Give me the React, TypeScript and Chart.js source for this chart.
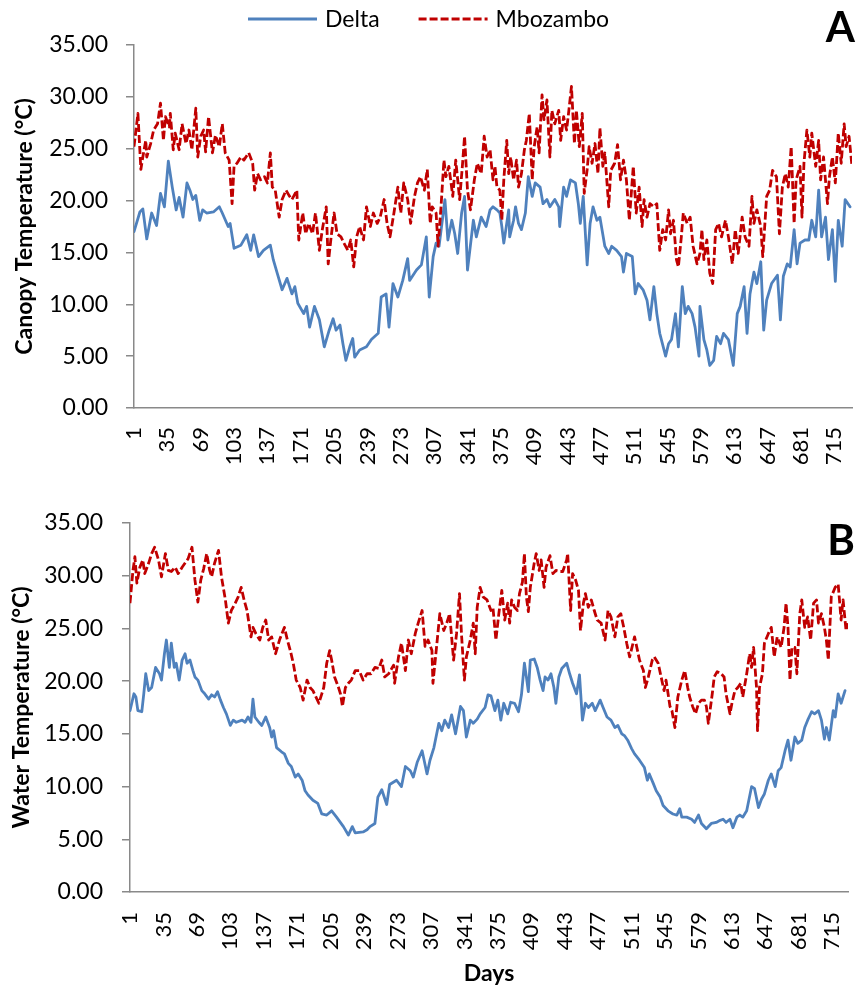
import React, { useEffect, useRef } from "react";
import { Chart, registerables } from "chart.js";

Chart.register(...registerables);

const FONT = "Lato, 'Liberation Sans', Arial, sans-serif";
const BLUE = "#4F81BD";
const RED = "#C00000";
const AXIS = "#898989";
const LINE_W = 2.8;
const RED_DASH = [8, 3];

const seriesNames = ["Delta", "Mbozambo"];
const dayTicks = [1, 35, 69, 103, 137, 171, 205, 239, 273, 307, 341, 375, 409, 443, 477, 511, 545, 579, 613, 647, 681, 715];

// ---- Panel A: canopy temperature ----
const deltaCanopyDays = [
  1, 7, 10, 14, 19, 24, 28, 32, 36, 40,
  44, 47, 51, 55, 58, 61, 64, 68, 71, 75,
  82, 88, 91, 97, 99, 103, 110, 116, 120, 123,
  128, 133, 140, 143, 147, 152, 157, 162, 165, 168,
  174, 177, 180, 185, 190, 195, 200, 204, 207, 211,
  214, 217, 221, 224, 226, 231, 238, 243, 250, 253,
  258, 261, 265, 270, 275, 280, 282, 289, 294, 299,
  302, 306, 309, 312, 318, 321, 325, 328, 331, 335,
  338, 341, 347, 350, 355, 360, 364, 367, 371, 374,
  376, 378, 379, 383, 384, 388, 390, 393, 396, 400,
  403, 407, 410, 415, 418, 422, 425, 430, 434, 435,
  439, 442, 446, 451, 454, 456, 459, 463, 466, 469,
  473, 476, 481, 485, 488, 493, 498, 500, 503, 509,
  512, 515, 520, 524, 527, 531, 534, 537, 543, 546,
  549, 553, 556, 560, 563, 566, 570, 573, 577, 578,
  582, 585, 588, 592, 595, 599, 602, 607, 612, 616,
  619, 623, 626, 629, 633, 636, 640, 643, 646, 651,
  657, 660, 663, 667, 670, 674, 677, 680, 685, 689,
  692, 696, 699, 702, 706, 709, 713, 716, 719, 723,
  726, 731,
];
const deltaCanopyTemps = [
  17.0, 18.9, 19.2, 16.3, 18.8, 17.6, 20.7, 19.4, 23.8, 21.3,
  19.1, 20.3, 18.4, 21.7, 21.0, 20.1, 20.5, 18.1, 19.1, 18.8,
  18.9, 19.4, 18.8, 17.5, 17.8, 15.4, 15.7, 16.7, 15.2, 16.7,
  14.6, 15.2, 15.7, 14.3, 13.0, 11.4, 12.5, 11.0, 11.7, 10.1,
  9.1, 9.8, 7.8, 9.8, 8.5, 5.9, 7.5, 8.6, 7.5, 8.0,
  6.2, 4.6, 5.9, 6.7, 4.9, 5.6, 5.9, 6.6, 7.2, 10.7,
  11.0, 7.8, 12.0, 10.7, 12.3, 14.4, 12.3, 13.3, 13.8, 16.5,
  10.7, 14.6, 15.9, 15.6, 20.1, 16.2, 18.1, 16.8, 14.9, 18.8,
  20.4, 13.3, 18.1, 16.5, 18.4, 17.5, 19.1, 19.4, 19.1, 18.8,
  17.5, 15.9, 16.5, 19.1, 16.5, 18.1, 19.4, 17.8, 17.2, 18.8,
  22.3, 20.4, 21.7, 21.3, 19.7, 20.1, 19.4, 20.1, 19.4, 17.5,
  21.3, 20.4, 22.0, 21.7, 19.7, 17.8, 20.4, 13.8, 17.8, 19.4,
  18.1, 18.4, 15.6, 14.9, 15.6, 15.2, 14.6, 13.1, 14.9, 14.6,
  11.0, 12.0, 11.4, 10.4, 8.5, 11.7, 9.1, 7.2, 5.0, 6.2,
  6.6, 9.1, 5.9, 11.7, 9.1, 9.8, 9.1, 7.8, 5.0, 9.8,
  6.6, 5.6, 4.1, 4.6, 6.9, 6.2, 7.2, 6.6, 4.1, 9.1,
  9.8, 11.7, 7.2, 11.0, 13.1, 12.0, 14.1, 7.5, 10.4, 12.0,
  12.8, 8.5, 12.7, 13.9, 13.6, 17.2, 13.9, 15.9, 16.2, 16.2,
  18.1, 16.5, 21.0, 16.5, 18.4, 14.3, 17.2, 12.2, 18.1, 15.6,
  20.1, 19.4,
];
const mbozamboCanopyDays = [
  1, 5, 8, 10, 13, 14, 18, 21, 25, 28,
  31, 33, 37, 38, 41, 43, 47, 50, 54, 57,
  60, 64, 66, 69, 72, 74, 77, 81, 84, 88,
  91, 94, 98, 101, 103, 106, 110, 113, 118, 122,
  124, 127, 130, 134, 137, 140, 142, 145, 149, 152,
  156, 159, 162, 167, 169, 173, 176, 179, 183, 186,
  190, 193, 197, 199, 202, 205, 208, 212, 215, 219,
  222, 225, 228, 231, 235, 238, 242, 245, 249, 252,
  256, 259, 262, 266, 270, 273, 276, 280, 283, 287,
  290, 293, 297, 300, 303, 305, 309, 311, 314, 317,
  319, 322, 326, 329, 333, 336, 338, 341, 344, 348,
  351, 355, 358, 361, 364, 367, 369, 371, 374, 376,
  378, 381, 383, 385, 388, 391, 393, 396, 399, 401,
  404, 407, 409, 412, 414, 417, 419, 422, 425, 427,
  430, 434, 436, 439, 442, 444, 447, 450, 452, 455,
  458, 460, 463, 465, 468, 471, 474, 476, 479, 481,
  485, 487, 491, 494, 497, 500, 503, 506, 510, 513,
  516, 519, 521, 524, 527, 531, 534, 537, 540, 543,
  546, 548, 551, 554, 556, 559, 561, 565, 568, 571,
  575, 578, 580, 582, 585, 588, 591, 594, 597, 600,
  604, 607, 611, 614, 617, 621, 624, 628, 631, 633,
  636, 640, 642, 646, 649, 652, 656, 659, 662, 665,
  668, 671, 674, 676, 680, 682, 684, 687, 690, 692,
  696, 699, 701, 704, 708, 710, 713, 716, 719, 722,
  725, 727, 730, 733,
];
const mbozamboCanopyTemps = [
  25.2, 28.4, 23.0, 24.2, 25.8, 24.2, 25.5, 26.8, 27.4, 29.4,
  25.8, 28.1, 27.1, 28.4, 24.9, 26.5, 24.9, 27.4, 25.5, 26.8,
  24.9, 28.9, 24.2, 26.2, 26.8, 24.7, 28.1, 24.6, 26.3, 25.2,
  27.4, 24.6, 23.9, 19.7, 23.3, 23.6, 24.2, 23.9, 24.6, 23.6,
  21.0, 22.6, 22.0, 22.3, 21.7, 24.6, 21.3, 21.0, 18.4, 20.1,
  21.0, 20.5, 20.1, 21.0, 16.2, 18.8, 16.8, 17.8, 16.8, 18.8,
  15.2, 17.2, 19.4, 13.9, 16.5, 18.8, 16.8, 16.5, 15.9, 15.2,
  16.2, 13.6, 16.5, 17.5, 16.2, 19.4, 17.5, 18.8, 17.8, 18.4,
  20.1, 17.8, 16.5, 18.8, 21.3, 18.8, 21.7, 20.1, 17.8, 20.4,
  21.7, 22.3, 21.0, 23.0, 17.8, 19.4, 18.8, 15.6, 19.4, 23.9,
  22.3, 23.3, 20.4, 23.9, 20.1, 23.6, 26.2, 21.0, 19.1, 22.0,
  23.6, 22.6, 26.2, 24.2, 24.9, 22.0, 23.3, 21.3, 21.0, 18.1,
  22.0, 25.8, 22.6, 24.2, 22.0, 23.9, 21.3, 22.6, 24.9, 25.8,
  28.4, 22.0, 25.2, 27.1, 24.6, 30.2, 27.8, 29.7, 24.2, 28.7,
  27.4, 28.7, 25.8, 28.1, 26.8, 28.4, 31.0, 25.5, 28.7, 25.2,
  28.4, 20.7, 23.0, 25.2, 23.6, 25.5, 22.6, 27.0, 23.3, 24.6,
  19.4, 22.9, 23.6, 25.4, 22.0, 23.9, 22.0, 18.1, 23.3, 18.8,
  21.3, 17.5, 20.1, 18.4, 19.7, 19.4, 19.7, 15.2, 17.2, 16.2,
  19.1, 16.8, 18.1, 14.3, 13.6, 16.5, 18.8, 17.8, 18.4, 15.6,
  13.9, 14.9, 17.2, 14.3, 16.2, 13.0, 12.0, 17.2, 17.8, 16.5,
  18.1, 16.5, 13.9, 17.2, 14.9, 18.4, 16.5, 15.6, 20.4, 17.8,
  19.1, 17.5, 14.6, 20.4, 21.0, 22.9, 22.3, 16.8, 21.3, 22.6,
  21.3, 25.2, 17.8, 22.0, 23.3, 18.4, 23.6, 26.8, 24.2, 26.5,
  23.3, 25.8, 22.0, 24.2, 19.7, 22.3, 24.2, 21.7, 26.5, 23.6,
  27.4, 25.2, 26.2, 23.3,
];

// ---- Panel B: water temperature ----
const deltaWaterDays = [
  1, 5, 7, 9, 13, 15, 17, 20, 23, 27,
  31, 33, 36, 38, 41, 43, 46, 48, 51, 54,
  57, 59, 62, 65, 67, 70, 74, 77, 81, 84,
  87, 90, 93, 96, 99, 103, 106, 109, 115, 118,
  121, 124, 126, 128, 132, 135, 139, 143, 145, 147,
  150, 155, 158, 162, 165, 169, 172, 176, 179, 182,
  187, 192, 196, 201, 206, 211, 218, 223, 227, 230,
  238, 242, 245, 250, 253, 257, 262, 265, 272, 277,
  281, 286, 289, 293, 298, 303, 306, 310, 315, 318,
  321, 325, 328, 332, 337, 340, 343, 347, 350, 354,
  357, 362, 365, 368, 372, 375, 378, 381, 385, 388,
  392, 396, 399, 402, 404, 406, 408, 412, 415, 418,
  421, 423, 426, 429, 432, 434, 437, 440, 445, 448,
  451, 455, 458, 461, 464, 467, 471, 474, 479, 482,
  486, 490, 494, 497, 501, 504, 507, 511, 514, 519,
  524, 527, 529, 533, 536, 540, 543, 548, 553, 557,
  560, 562, 567, 572, 575, 579, 582, 587, 592, 597,
  601, 604, 607, 611, 614, 618, 621, 624, 628, 633,
  636, 640, 643, 646, 650, 653, 657, 660, 663, 667,
  670, 673, 677, 680, 684, 687, 690, 694, 697, 701,
  704, 707, 709, 712, 716, 718, 721, 724, 728,
];
const deltaWaterTemps = [
  17.2, 18.8, 18.5, 17.2, 17.1, 18.8, 20.7, 19.1, 19.4, 21.3,
  20.7, 20.1, 22.6, 23.9, 21.3, 23.6, 21.3, 21.7, 20.1, 22.0,
  22.6, 21.7, 22.0, 21.0, 20.4, 20.1, 19.1, 18.8, 18.3, 18.7,
  18.5, 19.0, 18.2, 17.5, 16.9, 15.8, 16.3, 16.1, 16.3, 16.1,
  16.6, 16.1, 18.3, 16.6, 16.1, 15.8, 16.6, 15.6, 14.7, 15.3,
  13.7, 13.3, 13.1, 12.2, 11.9, 10.9, 11.2, 10.6, 9.6, 9.2,
  8.7, 8.4, 7.4, 7.3, 7.7, 7.1, 6.2, 5.4, 6.2, 5.6,
  5.7, 5.9, 6.2, 6.5, 9.0, 9.7, 8.3, 10.2, 10.6, 10.0,
  11.9, 11.5, 10.9, 12.3, 13.4, 11.2, 12.5, 13.7, 16.0, 15.3,
  16.3, 15.6, 16.8, 15.0, 17.6, 17.2, 14.7, 16.3, 16.0, 16.4,
  16.9, 17.5, 18.7, 18.6, 17.2, 18.2, 16.3, 17.9, 16.9, 18.0,
  17.9, 17.1, 18.7, 21.7, 20.4, 19.0, 22.0, 22.1, 21.3, 20.1,
  19.1, 20.4, 20.1, 20.7, 19.4, 17.9, 20.4, 21.2, 21.7, 20.7,
  19.8, 18.8, 20.6, 16.3, 17.9, 17.5, 17.9, 17.2, 18.2, 17.5,
  16.6, 16.3, 15.6, 15.8, 15.0, 14.8, 14.4, 13.6, 13.1, 12.5,
  11.8, 10.6, 11.2, 10.3, 9.6, 9.0, 8.2, 7.7, 7.4, 7.3,
  7.9, 7.1, 7.1, 6.9, 6.6, 7.3, 6.5, 6.0, 6.5, 6.6,
  6.8, 6.9, 6.6, 6.9, 6.1, 7.1, 7.3, 7.1, 7.7, 10.0,
  9.8, 8.0, 8.8, 9.3, 10.6, 11.2, 10.0, 11.5, 11.8, 13.4,
  14.4, 12.5, 14.7, 14.1, 14.4, 15.6, 16.3, 17.1, 16.9, 17.2,
  16.3, 14.5, 15.6, 14.4, 17.2, 16.6, 18.8, 17.9, 19.1,
];
const mbozamboWaterDays = [
  1, 4, 6, 8, 11, 14, 16, 20, 23, 26,
  30, 33, 37, 40, 43, 47, 50, 54, 57, 60,
  64, 67, 70, 73, 76, 79, 82, 84, 87, 91,
  94, 98, 101, 104, 108, 111, 114, 117, 120, 124,
  126, 129, 133, 136, 139, 142, 145, 149, 153, 158,
  161, 164, 167, 170, 174, 177, 181, 184, 187, 190,
  193, 196, 198, 201, 204, 206, 209, 213, 215, 217,
  220, 223, 226, 230, 234, 238, 242, 246, 250, 254,
  257, 260, 264, 269, 270, 274, 277, 281, 284, 287,
  291, 294, 298, 301, 304, 308, 309, 312, 316, 320,
  323, 326, 330, 333, 336, 338, 341, 343, 347, 350,
  352, 354, 357, 360, 364, 368, 370, 373, 376, 379,
  382, 385, 387, 389, 392, 395, 397, 400, 402, 404,
  406, 408, 412, 414, 417, 419, 422, 424, 428, 431,
  434, 438, 441, 445, 446, 449, 451, 454, 457, 459,
  462, 464, 467, 470, 473, 476, 480, 484, 487, 490,
  494, 497, 500, 503, 506, 509, 514, 517, 519, 523,
  525, 528, 532, 534, 538, 541, 544, 546, 550, 552,
  555, 558, 562, 565, 568, 570, 573, 576, 579, 582,
  585, 587, 589, 593, 595, 598, 602, 605, 607, 611,
  613, 616, 619, 622, 624, 628, 631, 633, 635, 638,
  639, 641, 644, 646, 650, 653, 656, 659, 663, 666,
  668, 670, 672, 674, 677, 679, 682, 684, 687, 690,
  693, 696, 699, 701, 704, 707, 709, 711, 714, 718,
  721, 724, 726, 729, 731,
];
const mbozamboWaterTemps = [
  27.4, 30.5, 31.8, 29.3, 30.8, 31.5, 30.2, 31.2, 32.1, 32.7,
  31.5, 29.9, 32.1, 30.5, 30.4, 30.8, 30.2, 30.8, 31.2, 31.6,
  32.7, 29.6, 27.5, 29.6, 30.7, 32.1, 30.5, 29.9, 31.2, 32.4,
  29.9, 27.7, 25.5, 26.7, 27.4, 28.0, 28.9, 27.7, 26.7, 24.2,
  25.1, 24.5, 23.9, 25.1, 25.8, 23.9, 24.2, 22.6, 23.9, 25.1,
  23.9, 22.9, 21.7, 20.1, 19.4, 18.2, 20.1, 19.4, 19.1, 18.5,
  17.9, 18.8, 19.4, 21.7, 22.9, 22.0, 20.4, 19.4, 18.8, 17.6,
  19.4, 19.8, 20.1, 21.0, 21.0, 20.1, 20.7, 20.7, 21.3, 21.2,
  22.0, 20.4, 20.7, 21.5, 19.8, 22.3, 23.6, 21.0, 23.9, 22.6,
  24.5, 25.5, 26.7, 23.3, 23.9, 22.9, 19.8, 22.6, 26.4, 24.8,
  25.5, 26.4, 22.0, 24.5, 28.3, 24.5, 20.1, 22.3, 23.9, 25.5,
  22.6, 27.0, 28.9, 28.0, 27.7, 26.7, 27.0, 23.9, 26.4, 28.6,
  25.8, 27.4, 25.5, 27.7, 27.0, 26.7, 28.3, 29.4, 32.1, 28.0,
  26.6, 28.9, 31.2, 32.1, 30.5, 31.5, 28.9, 30.8, 31.9, 30.2,
  30.5, 30.4, 30.4, 31.5, 32.1, 26.7, 30.2, 29.6, 28.6, 24.8,
  27.4, 28.3, 27.0, 27.7, 26.7, 25.8, 25.5, 23.9, 26.7, 26.1,
  24.2, 26.1, 26.4, 25.1, 23.6, 22.3, 24.2, 22.9, 22.0, 21.0,
  19.4, 20.4, 22.0, 22.3, 21.7, 20.4, 19.1, 20.1, 17.6, 17.2,
  15.6, 18.5, 20.1, 21.0, 19.4, 18.5, 17.6, 16.9, 17.9, 18.2,
  18.2, 17.6, 16.0, 18.8, 20.4, 20.9, 20.7, 20.4, 18.8, 16.9,
  17.9, 19.1, 19.4, 19.8, 18.5, 20.7, 22.6, 21.3, 23.2, 19.4,
  15.3, 19.4, 20.7, 23.6, 24.5, 25.1, 22.3, 24.2, 23.2, 25.1,
  27.4, 25.1, 20.1, 23.2, 23.2, 20.7, 26.4, 27.7, 25.1, 26.1,
  23.9, 27.4, 27.7, 25.5, 26.4, 25.1, 23.9, 22.0, 28.0, 28.9,
  29.2, 25.8, 27.7, 24.8, 25.5,
];

const toPoints = (days: number[], temps: number[]) => days.map((d, i) => ({ x: d, y: temps[i] }));

const decorPlugin = {
  id: "decor",
  afterDraw(chart: any, _args: any, opts: any) {
    const ctx: CanvasRenderingContext2D = chart.ctx;
    ctx.save();
    ctx.fillStyle = "#000";
    ctx.textBaseline = "alphabetic";
    ctx.font = `bold 42px ${FONT}`;
    ctx.textAlign = "right";
    ctx.fillText(opts.letter, 855, opts.letterBaseline);
    if (opts.legend) {
      ctx.font = `23px ${FONT}`;
      ctx.textAlign = "left";
      const items = [
        { text: seriesNames[0], color: BLUE, dash: [] as number[] },
        { text: seriesNames[1], color: RED, dash: RED_DASH },
      ];
      let x = 248;
      for (const it of items) {
        ctx.beginPath();
        ctx.setLineDash(it.dash);
        ctx.strokeStyle = it.color;
        ctx.lineWidth = LINE_W;
        ctx.moveTo(x, 19);
        ctx.lineTo(x + 69, 19);
        ctx.stroke();
        ctx.setLineDash([]);
        ctx.fillText(it.text, x + 77, 27);
        x += 77 + ctx.measureText(it.text).width + 39;
      }
    }
    ctx.restore();
  },
};

type PanelProps = {
  top: number;
  height: number;
  plotTop: number;
  plotBottom: number;
  plotLeft: number;
  plotRight: number;
  xMax: number;
  yTitle: string;
  yTitleOffset: number;
  yLabelPad: number;
  xLabelPad: number;
  xTitle?: string;
  letter: string;
  letterBaseline: number;
  legend: boolean;
  delta: { x: number; y: number }[];
  mboz: { x: number; y: number }[];
};

function Panel(p: PanelProps) {
  const ref = useRef<HTMLCanvasElement>(null);
  useEffect(() => {
    const chart = new Chart(ref.current as HTMLCanvasElement, {
      type: "line",
      data: {
        datasets: [
          {
            label: seriesNames[0],
            data: p.delta,
            borderColor: BLUE,
            borderWidth: LINE_W,
            pointRadius: 0,
            borderJoinStyle: "round",
            borderCapStyle: "round",
            tension: 0,
            order: 1,
          },
          {
            label: seriesNames[1],
            data: p.mboz,
            borderColor: RED,
            borderWidth: LINE_W,
            borderDash: RED_DASH,
            pointRadius: 0,
            borderJoinStyle: "round",
            tension: 0,
            order: 0,
          },
        ],
      },
      options: {
        responsive: false,
        animation: false,
        layout: { padding: { top: p.plotTop, right: 858 - p.plotRight, bottom: 0, left: 0 } },
        plugins: {
          legend: { display: false },
          tooltip: { enabled: false },
          decor: { letter: p.letter, letterBaseline: p.letterBaseline, legend: p.legend },
        } as any,
        scales: {
          x: {
            type: "linear",
            min: 1,
            max: p.xMax,
            afterBuildTicks: (s: any) => {
              s.ticks = dayTicks.map((v) => ({ value: v }));
            },
            afterFit: (s: any) => {
              s.height = p.height - p.plotBottom;
              s.paddingLeft = 0;
              s.paddingRight = 0;
            },
            ticks: {
              autoSkip: false,
              minRotation: 90,
              maxRotation: 90,
              padding: p.xLabelPad,
              color: "#000",
              font: { family: FONT, size: 22 },
              callback: (v: any) => String(v),
            },
            grid: { display: true, drawOnChartArea: false, drawTicks: false },
            border: { display: true, color: AXIS, width: 1.5 },
            title: p.xTitle
              ? {
                  display: true,
                  text: p.xTitle,
                  color: "#000",
                  font: { family: FONT, size: 23, weight: "bold", lineHeight: 1.13 },
                  padding: 0,
                }
              : { display: false },
          },
          y: {
            min: 0,
            max: 35,
            afterFit: (s: any) => {
              s.width = p.plotLeft;
              s.paddingTop = 0;
              s.paddingBottom = 0;
            },
            ticks: {
              stepSize: 5,
              padding: p.yLabelPad,
              color: "#000",
              font: { family: FONT, size: 23 },
              callback: (v: any) => Number(v).toFixed(2),
            },
            grid: { drawOnChartArea: false, drawTicks: true, tickLength: 8, color: AXIS, lineWidth: 1.5 },
            border: { display: true, color: AXIS, width: 1.5 },
            title: {
              display: true,
              text: p.yTitle,
              color: "#000",
              font: { family: FONT, size: 23, weight: "bold" },
              padding: { top: p.yTitleOffset, bottom: 0 },
            },
          },
        } as any,
      },
      plugins: [decorPlugin],
    });
    return () => chart.destroy();
  }, []);
  return (
    <canvas
      ref={ref}
      width={858}
      height={p.height}
      style={{ position: "absolute", left: 0, top: p.top, width: 858, height: p.height, display: "block" }}
    />
  );
}

export default function App() {
  return (
    <div style={{ position: "absolute", left: 0, top: 0, width: 858, height: 987, background: "#fff" }}>
      <Panel
        top={0}
        height={490}
        plotTop={45}
        plotBottom={408}
        plotLeft={134}
        plotRight={852}
        xMax={733}
        yTitle="Canopy Temperature (°C)"
        yTitleOffset={11}
        yLabelPad={18}
        xLabelPad={19}
        letter="A"
        letterBaseline={42}
        legend={true}
        delta={toPoints(deltaCanopyDays, deltaCanopyTemps)}
        mboz={toPoints(mbozamboCanopyDays, mbozamboCanopyTemps)}
      />
      <Panel
        top={490}
        height={497}
        plotTop={33}
        plotBottom={402}
        plotLeft={130}
        plotRight={848}
        xMax={731}
        yTitle="Water Temperature (°C)"
        yTitleOffset={8}
        yLabelPad={19}
        xLabelPad={20}
        xTitle="Days"
        letter="B"
        letterBaseline={65}
        legend={false}
        delta={toPoints(deltaWaterDays, deltaWaterTemps)}
        mboz={toPoints(mbozamboWaterDays, mbozamboWaterTemps)}
      />
    </div>
  );
}
